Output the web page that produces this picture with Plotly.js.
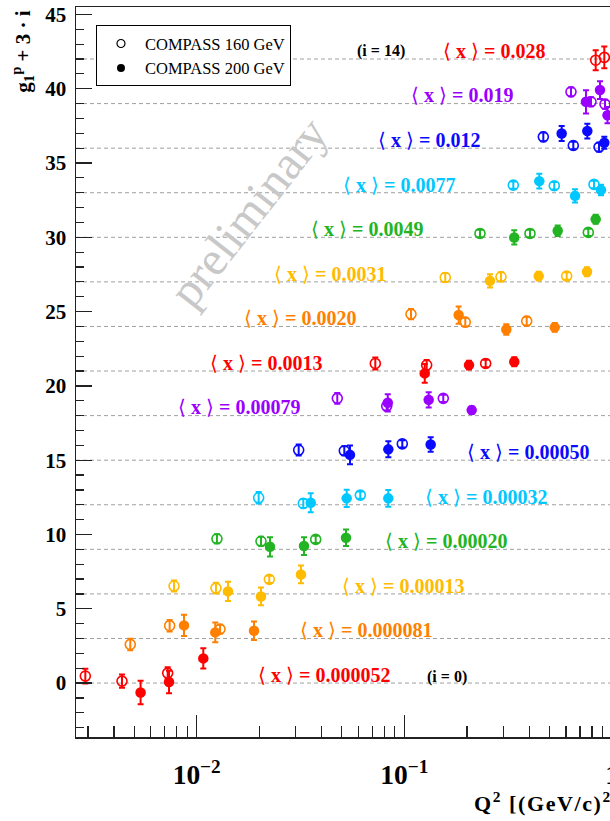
<!DOCTYPE html>
<html>
<head>
<meta charset="utf-8">
<script src="https://cdn.plot.ly/plotly-3.0.1.min.js"></script>
<style>
html,body{margin:0;padding:0;overflow:hidden;background:#fff;}
#chart{width:660px;height:821px;}
</style>
</head>
<body>
<div id="chart"></div>
<script>
// <x> bin labels, bin index i = 0..14 (offset 3*i)
const binLabels = ['0.000052','0.000081','0.00013','0.00020','0.00032','0.00050','0.00079',
  '0.0013','0.0020','0.0031','0.0049','0.0077','0.012','0.019','0.028'];
const binColors = ['#ff0000','#ff7f00','#ffbb00','#22b422','#00c8ff','#0a0aff','#9a00ff',
  '#ff0000','#ff7f00','#ffbb00','#22b422','#00c8ff','#0a0aff','#9a00ff','#ff0000'];

// COMPASS 160 GeV (open): Q^2, g1p + 3i, error
const q2_160 = [
  [0.00291,0.00437,0.00725],[0.00479,0.00741,0.01295],[0.00778,0.01238,0.02237],
  [0.01252,0.0204,0.03741],[0.01988,0.03261,0.06134],[0.03098,0.05137,0.0977],
  [0.04753,0.0822,0.1539],[0.07244,0.128,0.2462],[0.1076,0.1964,0.388],
  [0.1573,0.2918,0.6044],[0.2312,0.4024,0.7681],[0.3344,0.5268,0.8182],
  [0.4665,0.6504,0.865],[0.634,0.7913,0.9243],[0.8337,0.9173]
];
const g1_160 = [
  [0.47,0.13,0.67],[2.60,3.86,3.63],[6.53,6.39,6.98],
  [9.71,9.54,9.67],[12.47,12.09,12.65],[15.68,15.63,16.10],
  [19.16,18.64,19.16],[21.51,21.40,21.51],[24.83,24.29,24.36],
  [27.30,27.34,27.39],[30.26,30.26,30.33],[33.51,33.47,33.56],
  [36.76,36.18,36.07],[39.79,39.12,38.96],[41.92,42.11]
];
const err_160 = [
  [0.50,0.45,0.40],[0.39,0.39,0.30],[0.37,0.36,0.25],
  [0.30,0.30,0.25],[0.39,0.30,0.25],[0.37,0.30,0.25],
  [0.36,0.30,0.25],[0.40,0.35,0.25],[0.35,0.30,0.30],
  [0.30,0.30,0.25],[0.25,0.25,0.25],[0.25,0.25,0.25],
  [0.30,0.25,0.30],[0.30,0.30,0.30],[0.67,0.73]
];

// COMPASS 200 GeV (filled)
const q2_200 = [
  [0.00537,0.00736,0.01076],[0.00869,0.01229,0.01888],[0.01415,0.0204,0.03178],
  [0.02254,0.03286,0.05234],[0.0354,0.05275,0.08366],[0.05471,0.0837,0.1338],
  [0.08318,0.1309,0.2109],[0.1253,0.2047,0.3381],[0.1825,0.3094,0.5293],
  [0.2583,0.4432,0.7572],[0.338,0.5472,0.8336],[0.4462,0.6631,0.8841],
  [0.5718,0.7598,0.9173],[0.7486,0.8743,0.9504],[]
];
const g1_200 = [
  [-0.63,0.07,1.66],[3.88,3.41,3.52],[6.17,5.83,7.31],
  [9.17,9.22,9.78],[12.13,12.43,12.43],[15.36,15.73,16.06],
  [18.86,19.06,18.37],[20.84,21.40,21.62],[24.77,23.80,23.94],
  [27.07,27.39,27.68],[29.99,30.44,31.22],[33.78,32.79,33.18],
  [36.99,37.15,36.36],[39.12,39.91,38.22],[]
];
const err_200 = [
  [0.79,0.76,0.68],[0.71,0.67,0.62],[0.65,0.60,0.60],
  [0.65,0.60,0.56],[0.64,0.58,0.56],[0.63,0.54,0.49],
  [0.58,0.52,0.25],[0.63,0.30,0.30],[0.58,0.35,0.30],
  [0.45,0.30,0.30],[0.48,0.35,0.30],[0.50,0.45,0.35],
  [0.50,0.50,0.40],[0.78,0.60,0.55],[]
];

// label placement (log10 Q^2 of label's left edge)
const labelLogX = [-1.7145,-1.512,-1.310,-1.103,-0.910,-0.708,-2.0997,-1.946,-1.782,-1.6375,-1.459,-1.305,-1.137,-0.978,-0.824];

const SERIF = '"Liberation Serif","Times New Roman",serif';
const traces = [];
for (let i = 0; i < binLabels.length; i++) {
  const c = binColors[i];
  traces.push({
    type:'scatter', mode:'markers', x:q2_160[i], y:g1_160[i], showlegend:false, hoverinfo:'skip',
    marker:{symbol:'circle-open', size:10, color:c, line:{color:c, width:1.6}},
    error_y:{type:'data', array:err_160[i], visible:true, color:c, thickness:2, width:3}
  });
  traces.push({
    type:'scatter', mode:'markers', x:q2_200[i], y:g1_200[i], showlegend:false, hoverinfo:'skip',
    marker:{symbol:'circle', size:10.5, color:c},
    error_y:{type:'data', array:err_200[i], visible:true, color:c, thickness:2, width:3}
  });
}
traces.push({type:'scatter', mode:'markers', x:[null], y:[null], name:'COMPASS 160 GeV',
  marker:{symbol:'circle-open', size:8, color:'#000', line:{color:'#000', width:1.2}}});
traces.push({type:'scatter', mode:'markers', x:[null], y:[null], name:'COMPASS 200 GeV',
  marker:{symbol:'circle', size:8, color:'#000'}});

const shapes = [];
for (let i = 0; i < binLabels.length; i++) {
  shapes.push({type:'line', xref:'paper', x0:0, x1:1, yref:'y', y0:3*i, y1:3*i, layer:'below',
    line:{color:'#a0a0a0', width:1, dash:'4px,3px'}});
}

const annotations = [];
for (let i = 0; i < binLabels.length; i++) {
  annotations.push({xref:'x', yref:'y', x:labelLogX[i], y:3*i+0.55, xanchor:'left', yanchor:'middle',
    showarrow:false,
    text:'<span style="font-weight:normal">⟨</span> x <span style="font-weight:normal">⟩</span> = ' + binLabels[i],
    font:{family:SERIF, size:20, color:binColors[i], weight:'bold'}});
}
annotations.push({xref:'x', yref:'y', x:-1.2378, y:42.55, xanchor:'left', yanchor:'middle', showarrow:false,
  text:'(i = 14)', font:{family:SERIF, size:16, color:'#000', weight:'bold'}});
annotations.push({xref:'x', yref:'y', x:-0.9008, y:0.4, xanchor:'left', yanchor:'middle', showarrow:false,
  text:'(i = 0)', font:{family:SERIF, size:16, color:'#000', weight:'bold'}});
// watermark
annotations.push({xref:'paper', yref:'paper', x:0.314, y:0.72, xanchor:'center', yanchor:'middle', showarrow:false,
  text:'preliminary', textangle:-52, font:{family:SERIF, size:48, color:'#c8c8c8'}});
// axis titles
annotations.push({xref:'paper', yref:'paper', x:-0.098, y:0.998, xanchor:'center', yanchor:'top', showarrow:false,
  text:'g<sub>1</sub><sup>p</sup> + 3 · i', textangle:-90, font:{family:SERIF, size:21, color:'#000', weight:'bold'}});
annotations.push({xref:'paper', yref:'paper', x:0.7213, y:-0.089, xanchor:'left', yanchor:'middle', showarrow:false,
  text:'<span style="letter-spacing:1.6px">Q<sup>2</sup> [(GeV/c)<sup>2</sup>]</span>',
  font:{family:SERIF, size:22, color:'#000', weight:'bold'}});

const layout = {
  width:660, height:821,
  margin:{l:76, r:35, t:7, b:84},
  paper_bgcolor:'#fff', plot_bgcolor:'#fff',
  showlegend:true,
  legend:{x:0.0364, y:0.975, xanchor:'left', yanchor:'top', bgcolor:'#fff', bordercolor:'#000', borderwidth:1,
    font:{family:SERIF, size:16.5, color:'#000'}, tracegroupgap:0, itemwidth:38},
  xaxis:{type:'log', range:[-2.581, 0.0621], dtick:1, exponentformat:'power',
    showgrid:false, zeroline:false, showline:true, linecolor:'#222', linewidth:1.5, mirror:true,
    ticks:'inside', ticklen:22, tickwidth:1.3, tickcolor:'#222', ticklabelstandoff:14,
    tickfont:{family:SERIF, size:22, color:'#000', weight:'bold'},
    minor:{ticks:'inside', ticklen:11, tickwidth:1.2, tickcolor:'#222', dtick:'D1', showgrid:false}},
  yaxis:{range:[-3.63, 45.5], dtick:5, showgrid:false, zeroline:false, showline:true, linecolor:'#222', linewidth:1.5,
    mirror:true, ticks:'inside', ticklen:16, tickwidth:1.3, tickcolor:'#222', ticklabelstandoff:4,
    tickfont:{family:SERIF, size:21, color:'#000', weight:'bold'},
    minor:{ticks:'inside', ticklen:8, tickwidth:1.2, tickcolor:'#222', dtick:1, showgrid:false}},
  shapes:shapes,
  annotations:annotations
};

Plotly.newPlot('chart', traces, layout, {staticPlot:true, displayModeBar:false});
</script>
</body>
</html>
